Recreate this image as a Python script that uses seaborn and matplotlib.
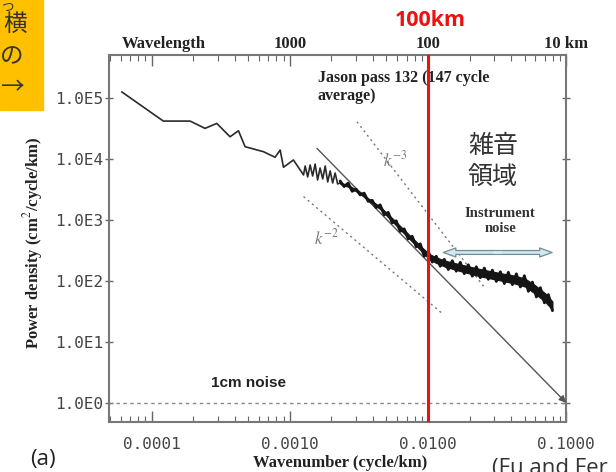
"""Recreation of the Jason along-track SSH wavenumber spectrum figure."""

import matplotlib
matplotlib.use("Agg")
import matplotlib.pyplot as plt
import matplotlib.ticker as ticker
import matplotlib.patches as mpatches
import numpy as np
import pandas as pd
import seaborn as sns

# --- Data (log10 values) ---
# thin, wiggly part of the spectrum
spec_log_k = [-4.217, -3.916, -3.722, -3.614, -3.529, -3.433, -3.372, -3.324,
              -3.191, -3.107, -3.070, -3.046, -2.974, -2.901, -2.889, -2.871,
              -2.853, -2.835, -2.817, -2.799, -2.781, -2.762, -2.744, -2.726,
              -2.708, -2.690, -2.672, -2.654, -2.636]
spec_log_p = [5.108, 4.628, 4.628, 4.508, 4.590, 4.370, 4.469, 4.207,
              4.125, 4.033, 4.152, 3.869, 3.989, 3.743, 3.890, 3.710,
              3.907, 3.726, 3.923, 3.661, 3.857, 3.677, 3.890, 3.628,
              3.808, 3.611, 3.775, 3.595, 3.611]

# noisy part of the spectrum: the ragged trace ...
noisy_log_k = [-2.636, -2.607, -2.578, -2.549, -2.520, -2.491, -2.462, -2.433,
               -2.404, -2.375, -2.346, -2.317, -2.288, -2.259, -2.230, -2.201,
               -2.172, -2.143, -2.114, -2.085, -2.056, -2.027, -1.998, -1.969,
               -1.940, -1.911, -1.882, -1.853, -1.824, -1.795, -1.766, -1.737,
               -1.708, -1.679, -1.650, -1.621, -1.592, -1.563, -1.534, -1.505,
               -1.476, -1.447, -1.418, -1.389, -1.360, -1.331, -1.302, -1.273,
               -1.244, -1.215, -1.186, -1.157, -1.128, -1.099]
noisy_log_p = [3.644, 3.552, 3.608, 3.474, 3.508, 3.415, 3.444, 3.310,
               3.326, 3.207, 3.251, 3.087, 3.128, 2.956, 2.989, 2.816,
               2.857, 2.693, 2.734, 2.562, 2.611, 2.407, 2.489, 2.311,
               2.407, 2.243, 2.356, 2.189, 2.334, 2.161, 2.308, 2.120,
               2.267, 2.079, 2.234, 2.054, 2.213, 2.028, 2.179, 1.993,
               2.152, 1.959, 2.143, 1.941, 2.118, 1.902, 2.087, 1.831,
               1.982, 1.738, 1.890, 1.641, 1.777, 1.513]
# ... and the solid core of that band
band_log_k = [-2.636, -2.563, -2.491, -2.418, -2.346, -2.273, -2.201, -2.128,
              -2.056, -1.998, -1.947, -1.875, -1.766, -1.621, -1.476, -1.367,
              -1.295, -1.222, -1.150, -1.099]
band_upper = [3.621, 3.558, 3.463, 3.334, 3.222, 3.063, 2.904, 2.742,
              2.581, 2.455, 2.394, 2.334, 2.273, 2.196, 2.130, 2.086,
              2.037, 1.927, 1.796, 1.665]
band_lower = [3.601, 3.534, 3.433, 3.298, 3.182, 3.013, 2.844, 2.678,
              2.511, 2.375, 2.304, 2.234, 2.163, 2.076, 2.010, 1.956,
              1.907, 1.787, 1.656, 1.525]

# reference slopes (endpoints, log10)
fit_log_k = [-2.804, -1.0]
fit_log_p = [4.18, 0.0]
k3_log_k = [-2.514, -1.597]
k3_log_p = [4.617, 1.911]
k2_log_k = [-2.901, -1.887]
k2_log_p = [3.387, 1.448]

noise_level = 1.0          # 1 cm noise
cutoff_k = 0.01            # 100 km
instr_log_k = [-1.889, -1.495, -1.101]   # left end, middle, right end
instr_log_p = 2.469

y_ticks = [1e0, 1e1, 1e2, 1e3, 1e4, 1e5]
x_ticks = [1e-4, 1e-3, 1e-2, 1e-1]
wavelength_ticks = [1000, 100, 10]
wavelength_labels = ["1000", "100", "10 km"]

SERIF = "Liberation Serif"
MONO = "DejaVu Sans Mono"
CJK = ["Noto Sans CJK JP", "DejaVu Sans"]

sns.set_theme(style="white")
plt.rcParams["font.family"] = ["DejaVu Sans", "Noto Sans CJK JP"]
plt.rcParams["mathtext.fontset"] = "stix"

fig = plt.figure(figsize=(6.16, 4.72), dpi=100)
ax = fig.add_axes([0.177, 0.106, 0.742, 0.777])
ax.set_xscale("log")
ax.set_yscale("log")

spec = pd.DataFrame({
    "k": 10 ** np.array(spec_log_k + noisy_log_k[1:]),
    "P": 10 ** np.array(spec_log_p + noisy_log_p[1:]),
})
sns.lineplot(data=spec, x="k", y="P", sort=False, estimator=None,
             color="#2a2a2a", lw=1.2, ax=ax, zorder=4)
noisy = pd.DataFrame({"k": 10 ** np.array(noisy_log_k), "P": 10 ** np.array(noisy_log_p)})
sns.lineplot(data=noisy, x="k", y="P", sort=False, estimator=None,
             color="#151515", lw=2.0, ax=ax, zorder=4)
bk = 10 ** np.array(band_log_k)
ax.fill_between(bk, 10 ** np.array(band_lower), 10 ** np.array(band_upper),
                color="#151515", lw=0.8, zorder=4)

# slope lines
dot = (0, (1.5, 2.5))
ax.plot(10 ** np.array(k3_log_k), 10 ** np.array(k3_log_p), color="#777777", lw=1, ls=dot)
ax.plot(10 ** np.array(k2_log_k), 10 ** np.array(k2_log_p), color="#777777", lw=1, ls=dot)
ax.annotate("", xy=(10 ** fit_log_k[1], 10 ** fit_log_p[1]),
            xytext=(10 ** fit_log_k[0], 10 ** fit_log_p[0]),
            arrowprops=dict(arrowstyle="-|>", color="#555555", lw=1,
                            mutation_scale=10, shrinkA=0, shrinkB=0),
            annotation_clip=False, zorder=3)

# 1 cm noise floor
ax.axhline(noise_level, color="#888888", lw=1, ls=(0, (2.5, 2.5)), zorder=2)

# instrument noise double arrow: two outlined arrows from the middle
ik = 10 ** np.array(instr_log_k)
ip = 10 ** instr_log_p
for end in (ik[0], ik[2]):
    ax.annotate("", xy=(end, ip), xytext=(ik[1], ip),
                arrowprops=dict(arrowstyle="simple,head_length=9,head_width=6.5,tail_width=2.8",
                                mutation_scale=1, fc="#d3e7ee", ec="#6f8d97", lw=0.9,
                                shrinkA=0, shrinkB=0), zorder=5)
ax.plot([ik[1] * 0.93, ik[1] * 1.07], [ip, ip], color="#d3e7ee", lw=2.2,
        solid_capstyle="butt", zorder=6)

# 100 km cut-off
ax.axvline(cutoff_k, color="#ee1111", lw=2.2, zorder=6)

ax.set_xlim(10 ** -4.309, 10 ** -1.0)
ax.set_ylim(10 ** -0.316, 10 ** 5.710)

# ticks
ax.yaxis.set_major_locator(ticker.FixedLocator(y_ticks))
ax.yaxis.set_minor_locator(ticker.NullLocator())
ax.yaxis.set_major_formatter(ticker.FuncFormatter(lambda v, _: f"1.0E{int(round(np.log10(v)))}"))
ax.xaxis.set_major_locator(ticker.FixedLocator(x_ticks))
ax.xaxis.set_minor_locator(ticker.LogLocator(base=10, subs=np.arange(2, 10), numticks=20))
ax.xaxis.set_major_formatter(ticker.FuncFormatter(lambda v, _: f"{v:.4f}"))
ax.tick_params(axis="y", which="major", direction="inout", length=6, width=1,
               color="#666666", left=True, right=True, pad=1,
               labelsize=11.5, labelcolor="#444444")
ax.tick_params(axis="x", which="major", direction="in", length=8, width=1,
               color="#666666", bottom=True, top=True, pad=11,
               labelsize=11.5, labelcolor="#444444")
ax.tick_params(axis="x", which="minor", direction="in", length=4, width=0.8,
               color="#666666", bottom=True, top=True)
for lab in ax.get_xticklabels() + ax.get_yticklabels():
    lab.set_fontfamily(MONO)

for sp in ax.spines.values():
    sp.set_color("#777777")
    sp.set_linewidth(1.5)

# top wavelength axis (labels only)
sec = ax.secondary_xaxis("top", functions=(lambda k: 1 / k, lambda w: 1 / w))
sec.set_xticks(wavelength_ticks)
sec.set_xticklabels(wavelength_labels)
sec.xaxis.set_minor_locator(ticker.NullLocator())
sec.tick_params(length=0, pad=2)
for lab in sec.get_xticklabels():
    lab.set_fontfamily(SERIF)
    lab.set_fontweight("bold")
    lab.set_fontsize(12)
    lab.set_color("#222222")
sec.spines["top"].set_visible(False)
fig.text(164 / 616, 1 - 44 / 472, "Wavelength", family=SERIF, weight="bold",
         fontsize=12, color="#222222", ha="center", va="center")

ax.set_xlabel("Wavenumber (cycle/km)", family=SERIF, weight="bold", fontsize=12,
              color="#222222", va="center")
ax.xaxis.set_label_coords(0.505, -0.112)
ax.set_ylabel("Power density (cm$^2$/cycle/km)", family=SERIF, weight="bold",
              fontsize=12, color="#222222", va="center")
ax.yaxis.set_label_coords(-0.166, 0.488)

# annotations inside the axes
ax.text(0.457, 0.959, "Jason pass 132 (147 cycle\naverage)", transform=ax.transAxes,
        family=SERIF, weight="bold", fontsize=11.5, color="#222222",
        ha="left", va="top", linespacing=1.15)
ax.text(0.626, 0.714, "$k^{-3}$", transform=ax.transAxes, fontsize=12,
        color="#777777", ha="center", va="center")
ax.text(0.476, 0.501, "$k^{-2}$", transform=ax.transAxes, fontsize=12,
        color="#777777", ha="center", va="center")
ax.text(0.840, 0.711, "雑音\n領域", transform=ax.transAxes, family=CJK,
        fontsize=18, color="#333333", ha="center", va="center", linespacing=1.25)
ax.text(0.856, 0.548, "Instrument\nnoise", transform=ax.transAxes, family=SERIF,
        weight="bold", fontsize=10.5, color="#333333", ha="center", va="center")
ax.text(0.306, 0.106, "1cm noise", transform=ax.transAxes, family="Liberation Sans",
        weight="bold", fontsize=11, color="#222222", ha="center", va="center")

# slide decorations outside the plot
fig.text(430 / 616, 1 - 20 / 472, "100km", family="Open Sans", weight="bold",
         fontsize=15.5, color="#ee1111", ha="center", va="center")
fig.patches.append(mpatches.Rectangle((0, 1 - 110 / 472), 43 / 616, 110 / 472,
                                      transform=fig.transFigure, color="#ffc000",
                                      zorder=0))
for ch, cx, cy, fs in [("つ", 7, 1, 9), ("横", 15, 24, 17), ("の", 12, 57, 17), ("→", 12, 88, 17)]:
    fig.text(cx / 616, 1 - cy / 472, ch, family=CJK, fontsize=fs,
             color="#333333", ha="center", va="top" if cy < 5 else "center")
fig.text(43 / 616, 1 - 459 / 472, "(a)", family="Open Sans", fontsize=16,
         color="#222222", ha="center", va="center")
fig.text(492 / 616, 1 - 458 / 472, "(Fu and Fer", family="Open Sans",
         fontsize=16, color="#333333", ha="left", va="top")

fig.savefig("out.png", dpi=100)
